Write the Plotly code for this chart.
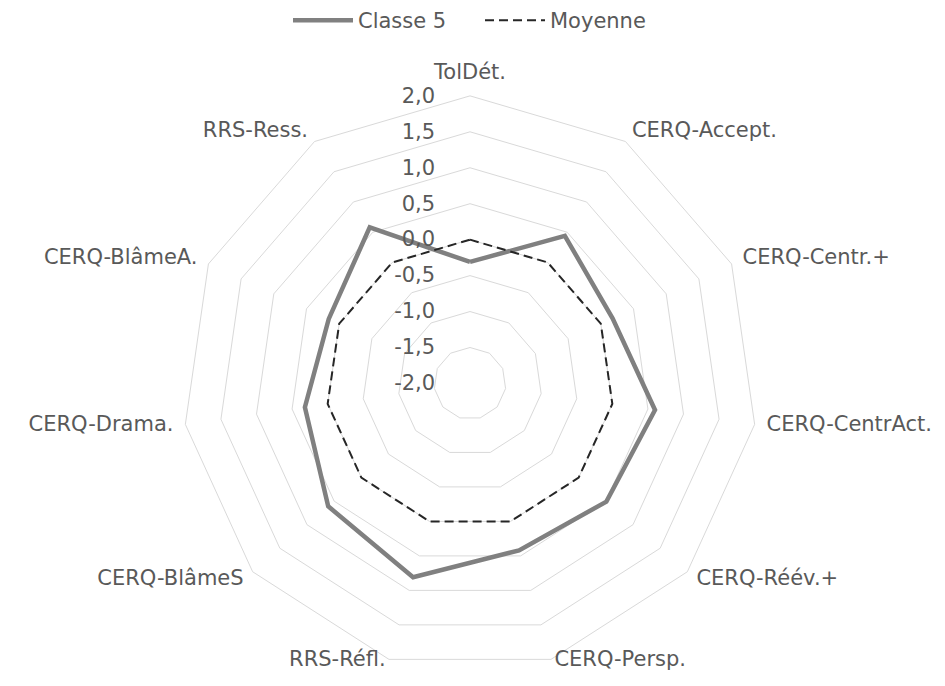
import plotly.graph_objects as go

categories = ["TolDét.", "CERQ-Accept.", "CERQ-Centr.+", "CERQ-CentrAct.", "CERQ-Réév.+",
              "CERQ-Persp.", "RRS-Réfl.", "CERQ-BlâmeS", "CERQ-Drama.", "CERQ-BlâmeA.", "RRS-Ress."]
classe5 = [-0.31, 0.44, 0.18, 0.60, 0.51, 0.42, 0.81, 0.61, 0.32, 0.16, 0.58]
moyenne = [0.0] * 11
tick_vals = [-2.0, -1.5, -1.0, -0.5, 0.0, 0.5, 1.0, 1.5, 2.0]
tick_text = ["-2,0", "-1,5", "-1,0", "-0,5", "0,0", "0,5", "1,0", "1,5", "2,0"]

# geometry / style (pixels)
W, H = 945, 686
CX, CY, RAD = 470, 383, 288          # main radar centre and radius
LRAD = 303                           # radius of the invisible label layer
label_r = 300                        # label anchor radius on that layer
label_pos = ["top center", "middle right", "middle right", "middle right", "middle right",
             "top right", "top left", "middle left", "middle left", "middle left", "middle left"]
FONT = "'DejaVu Sans', Lato, sans-serif"
FS = 21
GREY_TXT = "#595959"

cats_closed = categories + [categories[0]]
fig = go.Figure()
fig.add_trace(go.Scatterpolar(r=classe5 + [classe5[0]], theta=cats_closed, mode="lines",
                              name="Classe 5", line=dict(color="#808080", width=4.5)))
fig.add_trace(go.Scatterpolar(r=moyenne + [moyenne[0]], theta=cats_closed, mode="lines",
                              name="Moyenne", line=dict(color="#262626", width=2, dash="9px,5px")))
fig.add_trace(go.Scatterpolar(r=[label_r] * len(categories), theta=categories, mode="text",
                              text=categories, textposition=label_pos, cliponaxis=False,
                              showlegend=False, hoverinfo="skip", subplot="polar2",
                              textfont=dict(size=FS, color=GREY_TXT, family=FONT)))

hidden_ang = dict(direction="clockwise", rotation=90, showgrid=False, showticklabels=False,
                  showline=False, ticks="")
fig.update_layout(
    width=W, height=H,
    margin=dict(l=0, r=0, t=0, b=0),
    paper_bgcolor="white", plot_bgcolor="white",
    font=dict(family=FONT, size=FS, color=GREY_TXT),
    showlegend=True,
    legend=dict(orientation="h", x=288 / W, xanchor="left", y=1 - 20 / H, yanchor="middle",
                itemwidth=60, entrywidth=117, font=dict(size=FS, color=GREY_TXT)),
    polar=dict(
        domain=dict(x=[(CX - RAD) / W, (CX + RAD) / W], y=[1 - (CY + RAD) / H, 1 - (CY - RAD) / H]),
        bgcolor="white",
        gridshape="linear",
        radialaxis=dict(range=[-2, 2], tickvals=tick_vals, ticktext=tick_text,
                        angle=90, tickangle=90, side="counterclockwise",
                        showline=False, ticks="outside", ticklen=27, tickcolor="rgba(0,0,0,0)",
                        gridcolor="#d9d9d9", gridwidth=1,
                        tickfont=dict(size=FS, color=GREY_TXT)),
        angularaxis=dict(direction="clockwise", rotation=90, showgrid=False,
                         showticklabels=False,
                         showline=True, linecolor="#d9d9d9", linewidth=1, ticks=""),
    ),
    polar2=dict(
        domain=dict(x=[(CX - LRAD) / W, (CX + LRAD) / W], y=[max(0, 1 - (CY + LRAD) / H), 1 - (CY - LRAD) / H]),
        bgcolor="rgba(0,0,0,0)",
        radialaxis=dict(range=[0, LRAD], visible=False),
        angularaxis=hidden_ang,
    ),
)
fig.write_html("out.html", config={"displayModeBar": False},
               post_script="document.body.style.margin='0';")
